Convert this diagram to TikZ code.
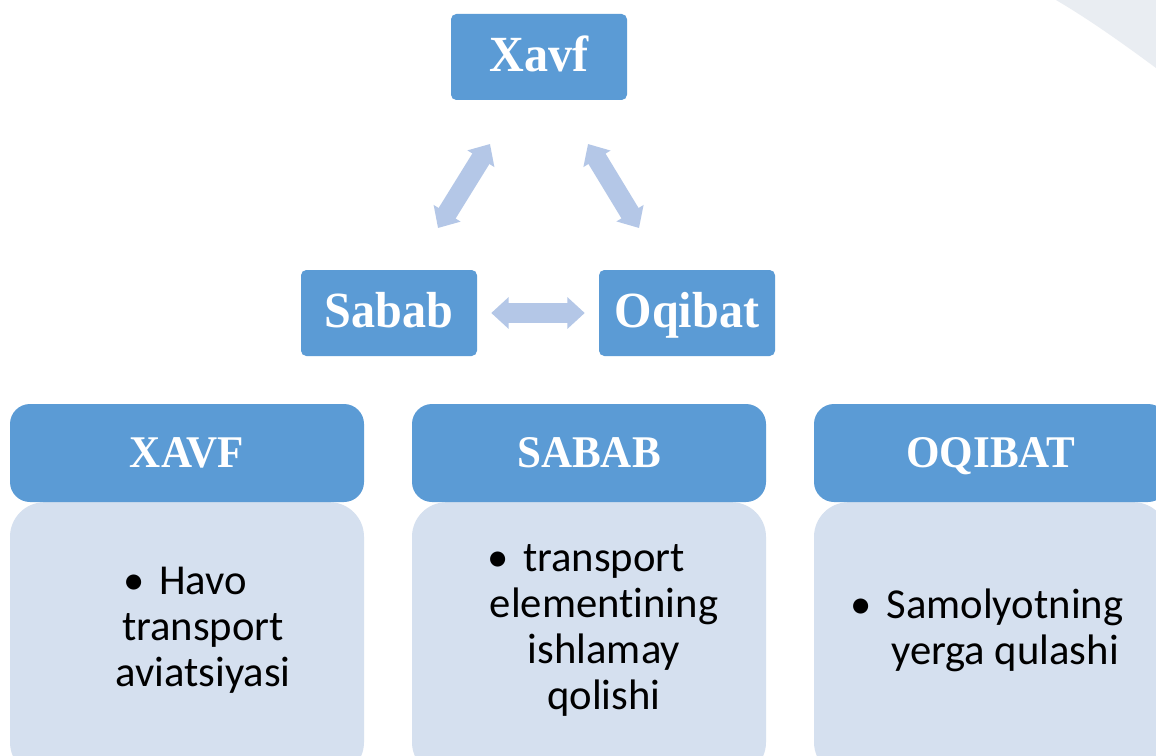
\documentclass[tikz,border=0pt]{standalone}
\usepackage{fontspec}
\setmainfont{Liberation Serif}
\newfontfamily\headfont[FakeStretch=0.95]{Liberation Serif}
\newfontfamily\bodyfont[Ligatures={NoCommon}]{Carlito}
\usetikzlibrary{arrows.meta}
\definecolor{accent}{HTML}{5B9BD5}
\definecolor{arrowc}{HTML}{B4C7E7}
\definecolor{bodyc}{HTML}{D5E0EF}
\definecolor{swoosh}{HTML}{E9EDF2}
\begin{document}
\begin{tikzpicture}[x=0.75pt,y=-0.75pt,
  topbox/.style={fill=accent, rounded corners=4pt, minimum width=132pt, minimum height=64.5pt, inner sep=0pt, text=white, text height=25pt, text depth=3.5pt, font=\headfont\fontsize{38}{42}\selectfont\bfseries},
  headbox/.style={fill=accent, rounded corners=15pt, minimum width=265.5pt, minimum height=73.5pt, inner sep=0pt, text=white, text height=22.5pt, text depth=1.5pt, font=\headfont\fontsize{34}{38}\selectfont\bfseries},
  bodybox/.style={fill=bodyc, rounded corners=26pt, minimum width=265.5pt, minimum height=206pt, inner sep=0pt},
  bodytext/.style={font=\bodyfont\fontsize{32}{34.5}\selectfont, align=center, text=black, inner sep=0pt},
  link/.style={draw=arrowc, line width=15pt, {Triangle[width=23pt,length=13pt]}-{Triangle[width=23pt,length=13pt]}}
]
\clip (0,0) rectangle (1156,756);
\fill[white] (0,0) rectangle (1156,756);
\fill[swoosh] (1056,0) .. controls (1090,20) and (1125,45) .. (1156,68) -- (1156,0) -- cycle;

% top triangle
\node[topbox] (xavf) at (539,57) {Xavf};
\node[topbox] (sabab) at (389,313) {Sabab};
\node[topbox] (oqibat) at (687,313) {Oqibat};

\coordinate (l1) at (438,228);
\coordinate (l2) at (490,144);
\coordinate (r1) at (588,144);
\coordinate (r2) at (639,228);
\draw[link] (l1) -- (l2);
\draw[link] (r1) -- (r2);
\draw[link, shorten <=10.5pt, shorten >=10.5pt] (sabab.east) -- (oqibat.west);

% lists
\node[bodybox] (b1) at (187,639.5) {};
\node[bodybox] (b2) at (589,639.5) {};
\node[bodybox] (b3) at (991,639.5) {};
\node[headbox] (h1) at (187,453) {XAVF};
\node[headbox] (h2) at (589,453) {SABAB};
\node[headbox] (h3) at (991,453) {OQIBAT};

\node[bodytext] (t1) at (203,630) {\llap{•\hspace{11pt}}Havo\\transport\\aviatsiyasi};
\node[bodytext] (t2) at (604,630) {\llap{•\hspace{11pt}}transport\\elementining\\ishlamay\\qolishi};
\node[bodytext] (t3) at (1005,630) {\llap{•\hspace{11pt}}Samolyotning\\yerga qulashi};
\end{tikzpicture}
\end{document}
